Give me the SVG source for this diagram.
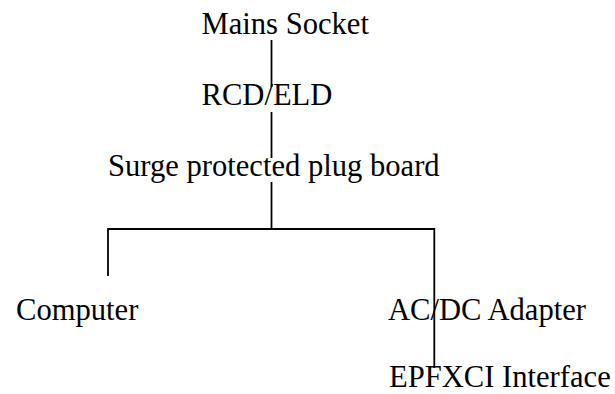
<svg xmlns="http://www.w3.org/2000/svg" width="615" height="394" viewBox="0 0 615 394">
<style>
text{font-family:"Liberation Serif","Times New Roman",serif;font-size:30.6px;fill:#000}
.c line{stroke:#000;stroke-width:1.8;fill:none}
</style>
<rect width="615" height="394" fill="#fff"/>
<g class="c" id="connectors">
<line x1="271.5" y1="40" x2="271.5" y2="87"/>
<line x1="271.5" y1="112" x2="271.5" y2="158"/>
<line x1="271.5" y1="182" x2="271.5" y2="229"/>
<line x1="108" y1="229" x2="435" y2="229"/>
<line x1="108" y1="228" x2="108" y2="276"/>
<line x1="434.3" y1="228" x2="434.3" y2="368"/>
</g>
<g id="mains"><text x="201.5" y="33.5">Mains Socket</text></g>
<g id="rcd"><text x="201.5" y="104.5">RCD/ELD</text></g>
<g id="surge"><text x="108" y="175.5">Surge protected plug board</text></g>
<g id="computer"><text x="16" y="319.5">Computer</text></g>
<g id="adapter"><text x="388" y="319.5">AC/DC Adapter</text></g>
<g id="epfxci"><text x="389" y="387">EPFXCI Interface</text></g>
</svg>
